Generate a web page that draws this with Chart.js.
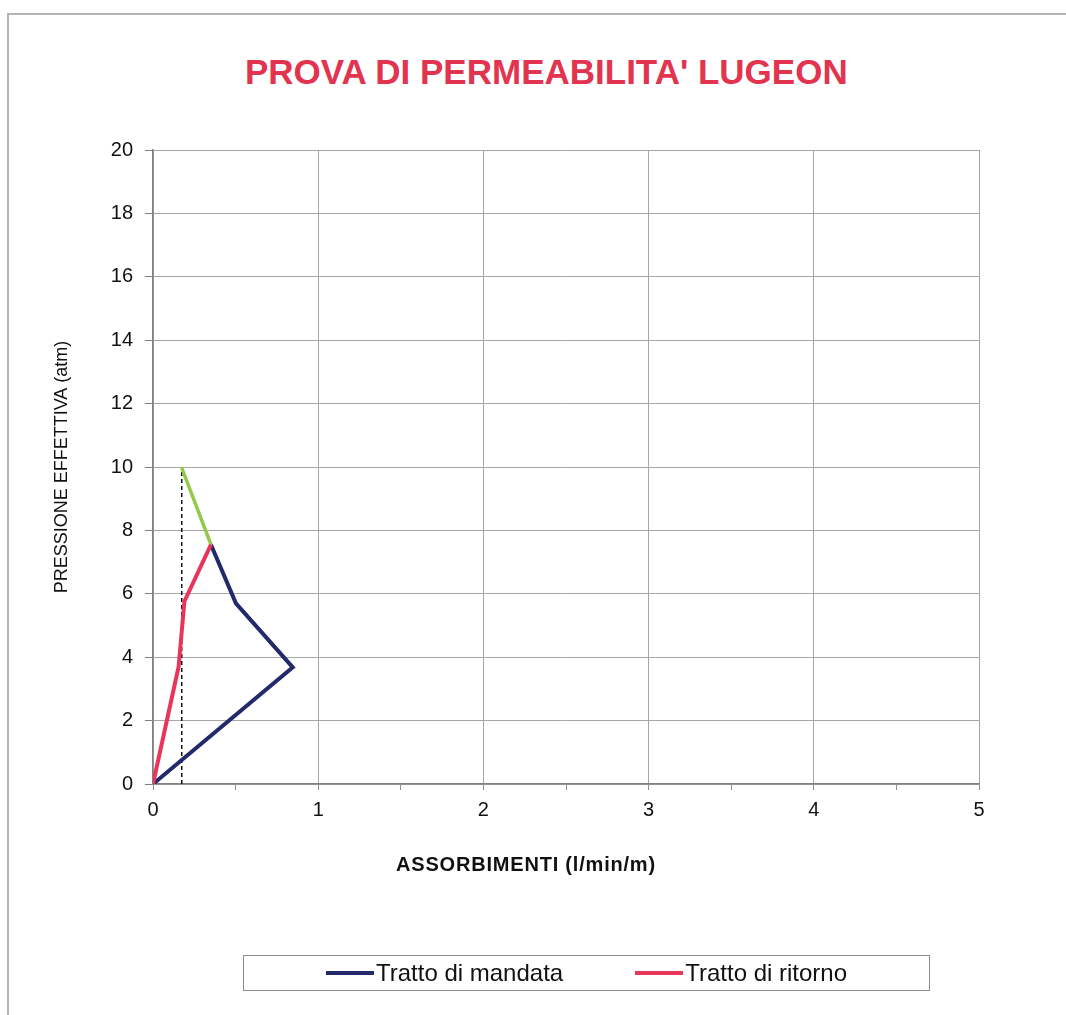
<!DOCTYPE html>
<html>
<head>
<meta charset="utf-8">
<script src="https://cdn.jsdelivr.net/npm/chart.js@4"></script>
<style>
    body { margin: 0; background: #fff; overflow: hidden; font-family: 'Liberation Sans', Arial, sans-serif; }
    #frame { position: absolute; left: 7px; top: 13px; width: 1100px; height: 1100px; border-left: 2px solid #b4b4b4; border-top: 2px solid #b4b4b4; }
    #wrap { position: absolute; left: 0; top: 0; width: 1066px; height: 1015px; }
    #title { position: absolute; left: 245px; width: 600px; top: 52px; text-align: center; font-size: 35px; font-weight: bold; color: #e2334f; white-space: nowrap; }
    #xtitle { position: absolute; left: 326px; width: 400px; top: 853px; text-align: center; font-size: 20px; font-weight: bold; letter-spacing: 0.8px; color: #111; white-space: nowrap; }
    #legend { position: absolute; left: 243px; top: 955px; width: 685px; height: 34px; border: 1px solid #8c8c8c; display: flex; justify-content: center; align-items: center; gap: 72px; font-size: 24px; color: #111; }
    #legend .item { display: flex; align-items: center; }
    #legend .swatch { width: 48px; height: 4px; margin-right: 2px; }
</style>
</head>
<body>
<div id="frame"></div>
<div id="title">PROVA DI PERMEABILITA' LUGEON</div>
<div id="wrap"><canvas id="lugeon"></canvas></div>
<div id="xtitle">ASSORBIMENTI (l/min/m)</div>
<div id="legend"></div>
<script>
// Dati
const mandataX = [0, 0.846, 0.502, 0.351];
const mandataY = [0, 3.68, 5.70, 7.55];

const ritornoX = [0.351, 0.19, 0.155, 0];
const ritornoY = [7.55, 5.76, 3.70, 0];

const massimoX = [0.351, 0.172];
const massimoY = [7.55, 10.0];

const lugeonX = [0.174, 0.174];
const lugeonY = [0, 10.0];

const xTicks = [0, 1, 2, 3, 4, 5];

function toPoints(xs, ys) {
    return xs.map((x, i) => ({ x: x, y: ys[i] }));
}

Chart.defaults.font.family = "'Liberation Sans', Arial, sans-serif";
Chart.defaults.color = '#111';

const isInt = v => Math.abs(v - Math.round(v)) < 1e-6;

const chart = new Chart(document.getElementById('lugeon'), {
    type: 'scatter',
    data: {
        datasets: [
            {
                label: 'Tratto di mandata',
                data: toPoints(mandataX, mandataY),
                showLine: true,
                borderColor: '#232a6c',
                borderWidth: 4,
                pointRadius: 0,
                order: 2
            },
            {
                label: 'Tratto di ritorno',
                data: toPoints(ritornoX, ritornoY),
                showLine: true,
                borderColor: '#e8365a',
                borderWidth: 4,
                pointRadius: 0,
                order: 1
            },
            {
                label: 'massimo',
                data: toPoints(massimoX, massimoY),
                showLine: true,
                borderColor: '#93c94a',
                borderWidth: 3.5,
                pointRadius: 0,
                order: 1
            },
            {
                label: 'lugeon',
                data: toPoints(lugeonX, lugeonY),
                showLine: true,
                borderColor: '#111',
                borderWidth: 1.5,
                borderDash: [4, 3],
                pointRadius: 0,
                order: 3
            }
        ]
    },
    options: {
        responsive: true,
        maintainAspectRatio: false,
        animation: false,
        layout: {
            padding: { left: 7, right: 87, top: 150, bottom: 131 }
        },
        plugins: {
            legend: { display: false },
            tooltip: { enabled: false }
        },
        scales: {
            x: {
                type: 'linear',
                min: 0,
                max: 5,
                afterFit: scale => { scale.height = 100; },
                ticks: {
                    stepSize: 0.5,
                    padding: 8,
                    font: { size: 20 },
                    color: '#111',
                    callback: v => isInt(v) && xTicks.includes(Math.round(v)) ? String(Math.round(v)) : ''
                },
                grid: {
                    color: ctx => isInt(ctx.tick.value) ? '#a6a6a6' : 'rgba(0,0,0,0)',
                    tickColor: '#8c8c8c',
                    tickLength: 6,
                    lineWidth: 1
                },
                border: { color: '#808080', width: 1.5 },
                title: { display: false }
            },
            y: {
                type: 'linear',
                min: 0,
                max: 20,
                afterFit: scale => { scale.width = 146; },
                ticks: {
                    stepSize: 2,
                    padding: 12,
                    font: { size: 20 },
                    color: '#111'
                },
                grid: {
                    color: '#a6a6a6',
                    tickColor: '#808080',
                    tickLength: 8,
                    lineWidth: 1
                },
                border: { color: '#808080', width: 1.5 },
                title: {
                    display: true,
                    text: 'PRESSIONE EFFETTIVA (atm)',
                    font: { size: 18 },
                    color: '#111',
                    padding: { top: 44, bottom: 0 }
                }
            }
        }
    }
});

// Legenda costruita dalle prime due serie
const legendBox = document.getElementById('legend');
chart.data.datasets.slice(0, 2).forEach(ds => {
    const item = document.createElement('div');
    item.className = 'item';
    const sw = document.createElement('span');
    sw.className = 'swatch';
    sw.style.background = ds.borderColor;
    const txt = document.createElement('span');
    txt.textContent = ds.label;
    item.appendChild(sw);
    item.appendChild(txt);
    legendBox.appendChild(item);
});
</script>
</body>
</html>
